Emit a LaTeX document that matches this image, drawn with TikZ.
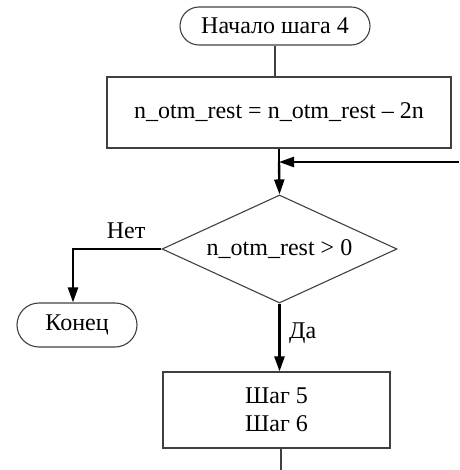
\documentclass[tikz,border=0pt]{standalone}
\usepackage{fontspec}
\newfontfamily\tnr{Liberation Serif}
\usetikzlibrary{shapes.geometric,arrows.meta}
\begin{document}
\begin{tikzpicture}[x=1pt,y=-1pt,
  every node/.style={font=\tnr\fontsize{24}{28}\selectfont, inner sep=0pt},
  thinline/.style={draw=black!75, line width=1.1pt},
  term/.style={thinline, rectangle, rounded corners=19pt, minimum width=#1},
  procbox/.style={thinline, rectangle, align=center},
  decis/.style={thinline, diamond, minimum width=235pt, minimum height=108pt, aspect=2.18},
  flow/.style={line width=2.4pt, -{Triangle[length=15pt,width=10pt]}},
  plain/.style={draw=black!75, line width=1.1pt}]
\useasboundingbox (0,0) rectangle (459,470);
\node[term=190pt, minimum height=38pt] (start) at (275,26) {Начало шага 4};
\node[procbox, minimum width=344pt, minimum height=71pt] (r1) at (279,112.5) {n\_otm\_rest = n\_otm\_rest – 2n};
\node[decis] (d) at (279.5,249) {n\_otm\_rest > 0};
\node[term=120pt, minimum height=44pt, rounded corners=22pt] (end) at (77,325) {Конец};
\node[procbox, minimum width=227pt, minimum height=76pt] (r2) at (276.5,410) {Шаг 5\\[0pt]Шаг 6};
\coordinate (loopin) at (459,162);
\coordinate (join) at (279,162);
\coordinate (nocorner) at (73,249);
\coordinate (out) at (281,470);
\draw[plain] (start.south) -- (start.south |- r1.north);
\draw[line width=2.4pt] (r1.south -| join) -- (join);
\draw[flow] (join) -- (d.north);
\draw[flow] (loopin) -- (join);
\draw[flow] (d.west) -- (nocorner) -- (end.north -| nocorner);
\node (no) at (126,231) {Нет};
\draw[flow] (d.south) -- (d.south |- r2.north);
\node[anchor=west] (yes) at (289,333) {Да};
\draw[plain] (r2.south -| out) -- (out);
\end{tikzpicture}
\end{document}
